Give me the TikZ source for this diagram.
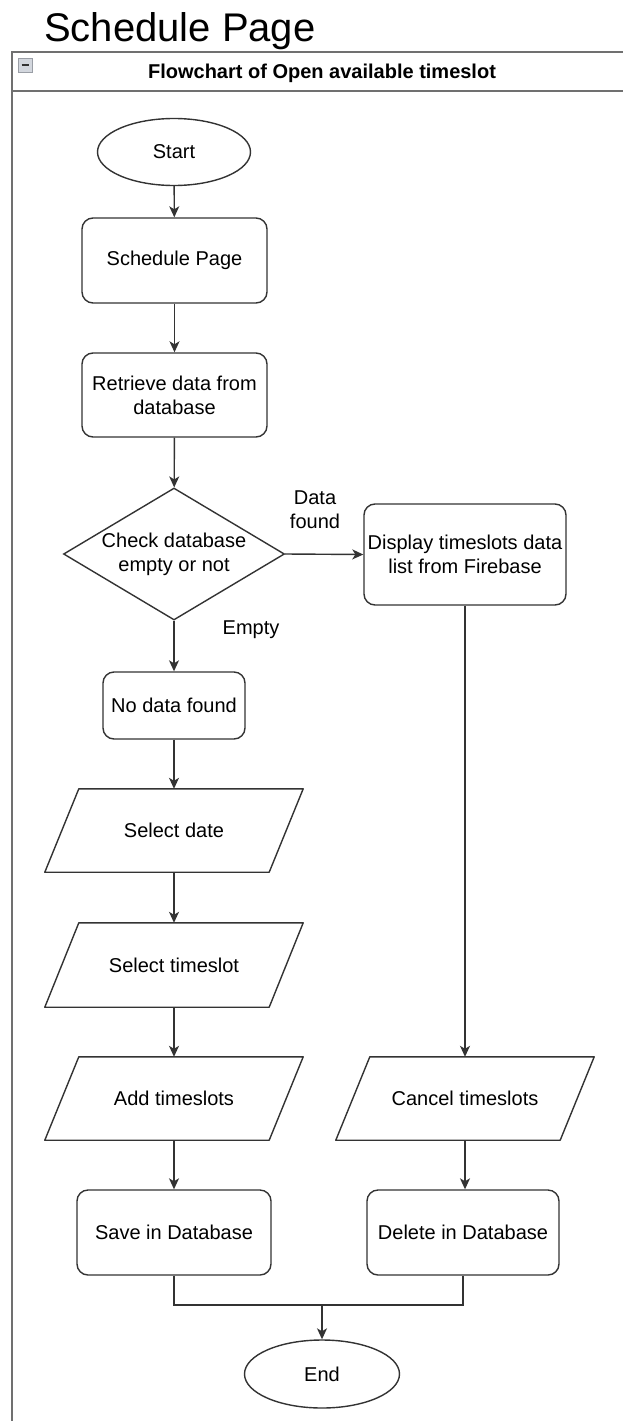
\documentclass[tikz,border=0pt]{standalone}
\usepackage{fontspec}
\setmainfont{Liberation Sans}
\usetikzlibrary{shapes.geometric,arrows.meta}

\definecolor{edge}{HTML}{333333}
\definecolor{framegray}{HTML}{707070}
\definecolor{btnfill}{HTML}{D3D7DE}
\definecolor{btnline}{HTML}{9A9EA6}

\tikzset{
  txt/.style={font=\fontsize{20}{24}\selectfont, align=center},
  base/.style={txt, draw=edge, line width=1.4pt, fill=white, inner sep=0pt},
  terminal/.style={base, ellipse, minimum width=153pt, minimum height=67pt},
  procbox/.style={base, rectangle, rounded corners=11pt},
  decision/.style={base, diamond, aspect=1.67, minimum width=221pt, minimum height=132pt},
  iobox/.style={txt, rectangle, inner sep=0pt, minimum width=224pt, minimum height=83pt},
  flow/.style={draw=edge, line width=1.4pt, -{Stealth[length=11pt,width=10pt,inset=3pt]}},
  link/.style={draw=edge, line width=1.4pt},
  lbl/.style={txt, inner sep=0pt},
}

% slanted input/output outline around an iobox node
\newcommand\ioshape[1]{%
  \draw[edge, line width=1.4pt, line join=round]
    ([xshift=17pt]#1.north west) -- ([xshift=17pt]#1.north east)
    -- ([xshift=-17pt]#1.south east) -- ([xshift=-17pt]#1.south west) -- cycle;}

\begin{document}
\begin{tikzpicture}[x=1pt, y=-1pt]
  \useasboundingbox (0,0) rectangle (623,1421);
  \clip (0,0) rectangle (623,1421);

  % page title
  \node[anchor=base west, inner sep=0pt, font=\fontsize{40}{46}\selectfont] (title) at (44,42) {Schedule Page};

  % swimlane frame with its header
  \draw[framegray, line width=2pt] (12,1440) -- (12,52) -- (640,52);
  \draw[framegray, line width=2pt] (12,91) -- (640,91);
  \node[draw=btnline, fill=btnfill, minimum size=14pt, inner sep=0pt, line width=0.8pt] (collapse) at (25.5,65.5) {};
  \draw[edge, line width=2pt] ([xshift=3.5pt]collapse.west) -- ([xshift=-3.5pt]collapse.east);
  \node[anchor=base, inner sep=0pt, font=\bfseries\fontsize{20}{24}\selectfont] (lane) at (322,78) {Flowchart of Open available timeslot};

  % left column
  \node[terminal] (start) at (174,152) {Start};
  \node[procbox, minimum width=185pt, minimum height=85pt] (sched) at (174.5,260.5) {Schedule Page};
  \node[procbox, minimum width=185pt, minimum height=84pt] (retr) at (174.5,395) {Retrieve data from\\database};
  \node[decision] (check) at (174,554) {Check database\\empty or not};
  \node[procbox, minimum width=142pt, minimum height=67pt] (nodata) at (174,705.5) {No data found};
  \node[iobox] (date) at (174,830.5) {Select date};
  \node[iobox, minimum height=84pt] (slot) at (174,965) {Select timeslot};
  \node[iobox] (add) at (174,1098.5) {Add timeslots};
  \node[procbox, minimum width=194pt, minimum height=85pt] (save) at (174,1232.5) {Save in Database};

  % right column
  \node[procbox, minimum width=202pt, minimum height=101pt] (disp) at (465,554.5) {Display timeslots data\\list from Firebase};
  \node[iobox] (cancel) at (465,1098.5) {Cancel timeslots};
  \node[procbox, minimum width=192pt, minimum height=85pt] (delete) at (463,1232.5) {Delete in Database};

  \node[terminal, minimum width=155pt, minimum height=68pt] (end) at (322,1374) {End};

  \ioshape{date}
  \ioshape{slot}
  \ioshape{add}
  \ioshape{cancel}

  % connectors
  \draw[flow] (start) -- (sched);
  \draw[flow] (sched) -- (retr);
  \draw[flow] (retr) -- (check);
  \draw[flow] (check.east) -- (disp.west);
  \node[lbl] (lfound) at (315,510) {Data\\found};
  \draw[flow] (check.south) -- (nodata.north);
  \node[lbl] (lempty) at (251,630) {Empty};
  \draw[flow] (nodata) -- (date);
  \draw[flow] (date) -- (slot);
  \draw[flow] (slot) -- (add);
  \draw[flow] (add) -- (save);
  \draw[flow] (disp.south) -- (cancel.north);
  \draw[flow] (cancel.south) -- (cancel.south |- delete.north);

  \coordinate (join) at (322,1305);
  \draw[link] (save.south) |- (join);
  \draw[link] (delete.south) |- (join);
  \draw[flow] (join) -- (end.north);
\end{tikzpicture}
\end{document}
